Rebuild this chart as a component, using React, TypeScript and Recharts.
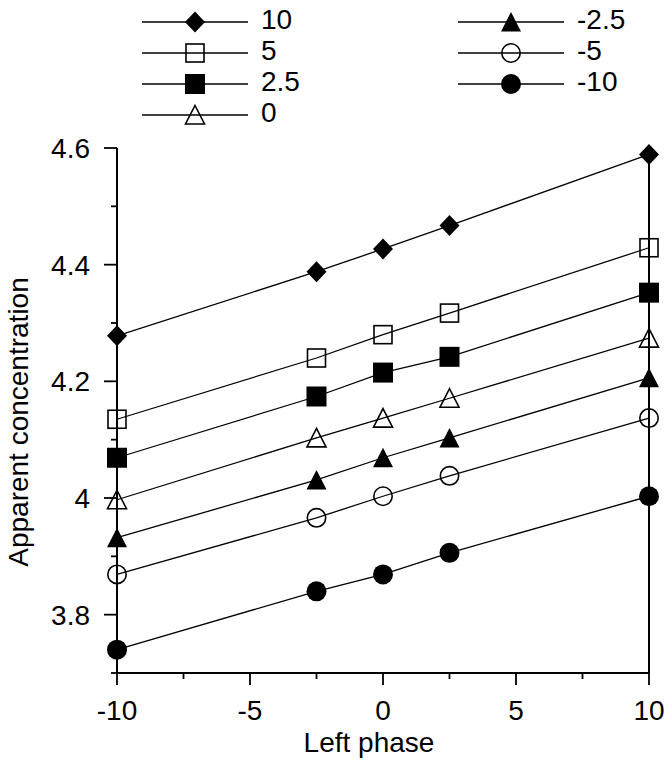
import React from 'react';
import { LineChart, Line, XAxis, YAxis } from 'recharts';

// data
const xValues = [-10, -2.5, 0, 2.5, 10];
const s10 = [4.278, 4.388, 4.427, 4.467, 4.589];
const s5 = [4.135, 4.24, 4.28, 4.317, 4.429];
const s2p5 = [4.069, 4.174, 4.215, 4.242, 4.352];
const s0 = [3.997, 4.103, 4.137, 4.171, 4.274];
const sm2p5 = [3.932, 4.031, 4.069, 4.103, 4.206];
const sm5 = [3.869, 3.966, 4.003, 4.038, 4.137];
const sm10 = [3.74, 3.84, 3.869, 3.906, 4.003];

const seriesNames = ['10', '5', '2.5', '0', '-2.5', '-5', '-10'];
const seriesValues = [s10, s5, s2p5, s0, sm2p5, sm5, sm10];
const seriesShapes = ['diamond', 'openSquare', 'square', 'openTriangle', 'triangle', 'openCircle', 'circle'];

const xTicks = [-10, -7.5, -5, -2.5, 0, 2.5, 5, 7.5, 10];
const xMajor = [-10, -5, 0, 5, 10];
const yTicks = [3.7, 3.8, 3.9, 4, 4.1, 4.2, 4.3, 4.4, 4.5, 4.6];
const yMajor = [3.8, 4, 4.2, 4.4, 4.6];

const data = xValues.map((x, i) => {
  const row: any = { x };
  seriesValues.forEach((vals, k) => {
    row['s' + k] = vals[i];
  });
  return row;
});

const FONT = '"Liberation Sans", Arial, Helvetica, sans-serif';
const FS = 28;

const Marker = ({ shape, cx, cy }: any) => {
  switch (shape) {
    case 'diamond':
      return <polygon points={`${cx},${cy - 10.5} ${cx + 10},${cy} ${cx},${cy + 10.5} ${cx - 10},${cy}`} fill="#000" />;
    case 'openSquare':
      return <rect x={cx - 9} y={cy - 9} width={18} height={18} fill="none" stroke="#000" strokeWidth={1.6} />;
    case 'square':
      return <rect x={cx - 10} y={cy - 10} width={20} height={20} fill="#000" />;
    case 'openTriangle':
      return <polygon points={`${cx},${cy - 9.5} ${cx + 9.5},${cy + 9} ${cx - 9.5},${cy + 9}`} fill="none" stroke="#000" strokeWidth={1.6} />;
    case 'triangle':
      return <polygon points={`${cx},${cy - 10} ${cx + 10},${cy + 9.5} ${cx - 10},${cy + 9.5}`} fill="#000" />;
    case 'openCircle':
      return <circle cx={cx} cy={cy} r={9.2} fill="none" stroke="#000" strokeWidth={1.6} />;
    default:
      return <circle cx={cx} cy={cy} r={10} fill="#000" />;
  }
};

const LeftTick = ({ x, y, payload }: any) => {
  const v = payload.value;
  const major = yMajor.includes(v);
  return (
    <g>
      <line x1={x - (major ? 13 : 6)} x2={x} y1={y} y2={y} stroke="#000" strokeWidth={1.8} />
      {major && (
        <text x={x - 27} y={y + 10} textAnchor="end" fontSize={FS} fontFamily={FONT} fill="#000">
          {String(v)}
        </text>
      )}
    </g>
  );
};

const RightTick = ({ x, y, payload }: any) => {
  const major = yMajor.includes(payload.value);
  return <line x1={x} x2={x + (major ? 13 : 6)} y1={y} y2={y} stroke="#000" strokeWidth={1.8} />;
};

const BottomTick = ({ x, y, payload }: any) => {
  const v = payload.value;
  const major = xMajor.includes(v);
  return (
    <g>
      <line x1={x} x2={x} y1={y} y2={y + (major ? 12 : 6)} stroke="#000" strokeWidth={1.8} />
      {major && (
        <text x={x} y={y + 47} textAnchor="middle" fontSize={FS} fontFamily={FONT} fill="#000">
          {String(v)}
        </text>
      )}
    </g>
  );
};

const XTitle = () => (
  <text x={369} y={752} textAnchor="middle" fontSize={FS} fontFamily={FONT} fill="#000">
    Left phase
  </text>
);

const YTitle = () => (
  <text x={28} y={422} transform="rotate(-90, 28, 422)" textAnchor="middle" fontSize={FS} fontFamily={FONT} fill="#000">
    Apparent concentration
  </text>
);

const legendRows = [22, 53, 84, 115];

const LegendBlock = () => (
  <svg width={672} height={140} style={{ position: 'absolute', left: 0, top: 0, pointerEvents: 'none' }}>
    {seriesNames.map((name, k) => {
      const col = k < 4 ? 0 : 1;
      const row = k < 4 ? k : k - 4;
      const x1 = col === 0 ? 142 : 458;
      const x2 = x1 + 106;
      const cy = legendRows[row];
      const cx = (x1 + x2) / 2;
      return (
        <g key={name}>
          <line x1={x1} x2={x2} y1={cy} y2={cy} stroke="#000" strokeWidth={1.4} />
          <Marker shape={seriesShapes[k]} cx={cx} cy={cy} />
          <text x={col === 0 ? 261 : 577} y={cy + 7} fontSize={FS} fontFamily={FONT} fill="#000">
            {name}
          </text>
        </g>
      );
    })}
  </svg>
);

export default function App() {
  return (
    <div style={{ position: 'absolute', left: 0, top: 0, width: 672, height: 767, background: '#fff' }}>
      <LineChart
        width={672}
        height={767}
        data={data}
        margin={{ top: 148, right: 3, bottom: 64, left: 57 }}
      >
        <XAxis
          xAxisId="b"
          dataKey="x"
          type="number"
          domain={[-10, 10]}
          ticks={xTicks}
          interval={0}
          tickSize={0}
          tickMargin={0}
          tickLine={false}
          tick={<BottomTick />}
          axisLine={{ stroke: '#000', strokeWidth: 2 }}
          height={30}
          label={<XTitle />}
        />
        <XAxis
          xAxisId="t"
          orientation="top"
          type="number"
          domain={[-10, 10]}
          tick={false}
          tickLine={false}
          axisLine={{ stroke: '#000', strokeWidth: 2 }}
          height={0}
        />
        <YAxis
          yAxisId="l"
          type="number"
          domain={[3.7, 4.6]}
          ticks={yTicks}
          interval={0}
          tickSize={0}
          tickMargin={0}
          tickLine={false}
          tick={<LeftTick />}
          axisLine={{ stroke: '#000', strokeWidth: 2 }}
          width={60}
          label={<YTitle />}
        />
        <YAxis
          yAxisId="r"
          orientation="right"
          type="number"
          domain={[3.7, 4.6]}
          ticks={yTicks}
          interval={0}
          tickSize={0}
          tickMargin={0}
          tickLine={false}
          tick={<RightTick />}
          axisLine={{ stroke: '#000', strokeWidth: 2 }}
          width={20}
        />
        {seriesNames.map((name, k) => (
          <Line
            key={name}
            xAxisId="b"
            yAxisId="l"
            type="linear"
            dataKey={'s' + k}
            name={name}
            stroke="#000"
            strokeWidth={1.3}
            isAnimationActive={false}
            dot={(p: any) => <Marker key={`${k}-${p.index}`} shape={seriesShapes[k]} cx={p.cx} cy={p.cy} />}
            activeDot={false}
          />
        ))}
      </LineChart>
      <LegendBlock />
    </div>
  );
}
